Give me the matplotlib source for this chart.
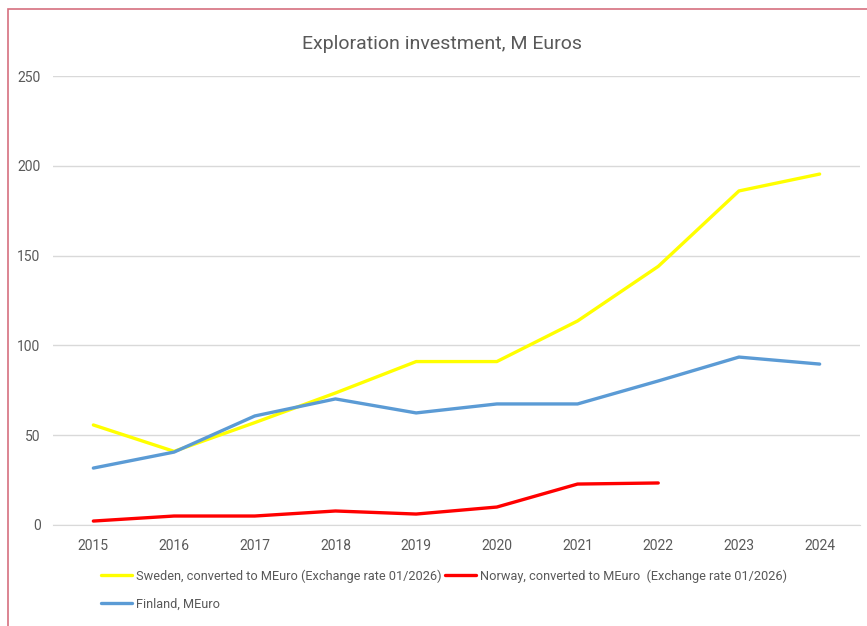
import matplotlib.pyplot as plt
from matplotlib.patches import Rectangle

years = ["2015", "2016", "2017", "2018", "2019", "2020", "2021", "2022", "2023", "2024"]
sweden = [55.7, 41.0, 57.0, 73.5, 91.0, 91.0, 113.6, 144.0, 186.0, 195.4]
norway = [2.2, 5.0, 5.0, 7.8, 6.1, 10.0, 22.8, 23.4]
finland = [31.7, 40.6, 60.7, 70.2, 62.4, 67.4, 67.4, 80.2, 93.5, 89.6]

label_se = "Sweden, converted to MEuro (Exchange rate 01/2026)"
label_no = "Norway, converted to MEuro  (Exchange rate 01/2026)"
label_fi = "Finland, MEuro"

plt.rcParams['font.family'] = ['Roboto', 'DejaVu Sans']
grey = '#595959'

fig = plt.figure(figsize=(8.67, 6.26), dpi=100)
ax = fig.add_axes([53 / 867, 1 - 525 / 626, (860 - 53) / 867, (525 - 76) / 626])

x = list(range(len(years)))
l_se, = ax.plot(x, sweden, color='#FFFF00', lw=2.4, solid_capstyle='round', zorder=3)
l_no, = ax.plot(x[:len(norway)], norway, color='#FF0000', lw=2.4, solid_capstyle='round', zorder=3)
l_fi, = ax.plot(x, finland, color='#5B9BD5', lw=2.4, solid_capstyle='round', zorder=4)

ax.set_xlim(-0.5, len(years) - 0.5)
ax.set_ylim(0, 250)
ax.set_yticks(range(0, 251, 50))
ax.set_xticks(x)
ax.set_xticklabels(years)
ax.grid(axis='y', color='#d9d9d9', lw=1)
ax.set_axisbelow(True)
for s in ['top', 'right', 'left']:
    ax.spines[s].set_visible(False)
ax.spines['bottom'].set_color('#d9d9d9')
ax.tick_params(length=0, colors=grey, labelsize=10)
ax.tick_params(axis='y', pad=9)
ax.tick_params(axis='x', pad=10)

fig.text(442 / 867, 1 - 44 / 626, "Exploration investment, M Euros", ha='center', va='center',
         fontsize=14, color=grey)

# legend: order so that row 1 = Sweden, Norway and row 2 = Finland
fig.legend([l_se, l_fi, l_no], [label_se, label_fi, label_no], ncol=2,
           loc='upper left', bbox_to_anchor=(95 / 867, 1 - 563 / 626),
           frameon=False, fontsize=9.2, labelcolor=grey, handlelength=2.4,
           handletextpad=0.3, columnspacing=0.3, labelspacing=1.15, borderpad=0)

# chart area border (cropped)
fig.patches.append(Rectangle((8 / 867, -0.05), 1.1, 1 - 9 / 626 + 0.05, transform=fig.transFigure,
                             fill=False, edgecolor='#d6707f', lw=1.2))

fig.savefig("out.png", dpi=100)
